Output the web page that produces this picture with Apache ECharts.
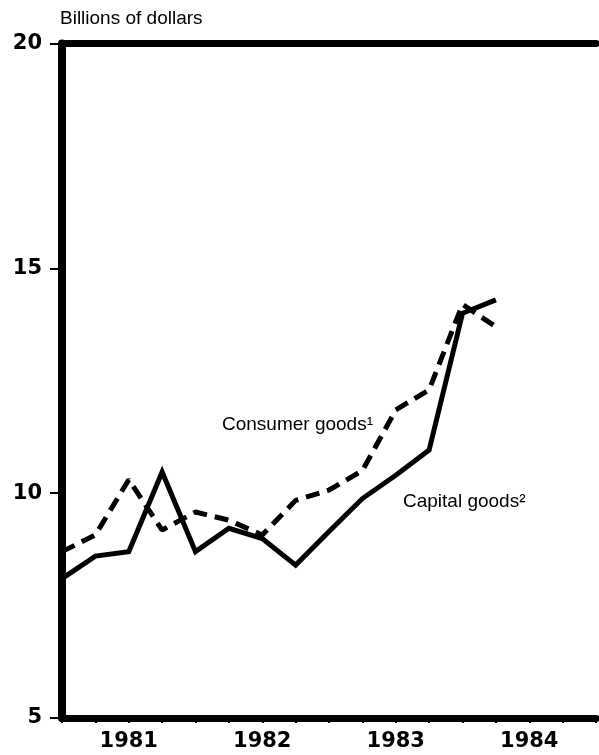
<!DOCTYPE html>
<html>
<head>
<meta charset="utf-8">
<script src="https://cdn.jsdelivr.net/npm/echarts@6/dist/echarts.min.js"></script>
<style>
  html, body { margin: 0; padding: 0; background: #fff; }
  #chart { width: 599px; height: 755px; }
</style>
</head>
<body>
<div id="chart"></div>
<script>
// quarterly data, 1981 Q1 .. 1984 Q2
const years = ['1981', '1982', '1983', '1984']
const consumerGoods = [8.7, 9.07, 10.3, 9.18, 9.58, 9.4, 9.07, 9.84, 10.07, 10.5, 11.85, 12.3, 14.2, 13.7]
const capitalGoods = [8.1, 8.6, 8.7, 10.47, 8.7, 9.22, 8.99, 8.4, 9.15, 9.88, 10.4, 10.96, 14.0, 14.3]
const yTicks = [5, 10, 15, 20]

// 17 quarter boundaries, year label in the middle of each year
const quarterLabels = []
for (let i = 0; i <= 16; i++) {
  quarterLabels.push(i % 4 === 2 ? years[(i - 2) / 4] : '')
}

const chart = echarts.init(document.getElementById('chart'))

const textFont = '19px "Liberation Sans", Arial, sans-serif'

const option = {
  animation: false,
  backgroundColor: '#fff',
  grid: { left: 62, right: 1, top: 43.5, bottom: 37 },
  xAxis: [
    {
      type: 'category',
      boundaryGap: false,
      data: quarterLabels,
      axisLine: { lineStyle: { color: '#000', width: 7 } },
      axisTick: { interval: 0, length: 5, lineStyle: { color: '#000', width: 2 } },
      axisLabel: {
        interval: 0,
        margin: 13,
        color: '#000',
        fontFamily: 'DejaVu Sans',
        fontWeight: 'bold',
        fontSize: 21
      }
    },
    {
      type: 'category',
      position: 'top',
      boundaryGap: false,
      data: quarterLabels,
      axisLine: { lineStyle: { color: '#000', width: 7 } },
      axisTick: { show: false },
      axisLabel: { show: false }
    }
  ],
  yAxis: {
    type: 'value',
    min: yTicks[0],
    max: yTicks[yTicks.length - 1],
    interval: 5,
    axisLine: { show: true, lineStyle: { color: '#000', width: 8 } },
    axisTick: { show: true, length: 12, lineStyle: { color: '#000', width: 2 } },
    splitLine: { show: false },
    axisLabel: {
      margin: 20,
      color: '#000',
      fontFamily: 'DejaVu Sans',
      fontWeight: 'bold',
      fontSize: 21
    }
  },
  series: [
    {
      name: 'Consumer goods',
      type: 'line',
      data: consumerGoods,
      symbol: 'none',
      lineStyle: { color: '#000', width: 5, type: [14, 8], cap: 'butt' },
      z: 3
    },
    {
      name: 'Capital goods',
      type: 'line',
      data: capitalGoods,
      symbol: 'none',
      lineStyle: { color: '#000', width: 5, join: 'miter' },
      z: 4
    }
  ],
  graphic: [
    {
      type: 'text', left: 60, top: 9,
      style: { text: 'Billions of dollars', fill: '#000', font: textFont }
    },
    {
      type: 'text', left: 222, top: 415,
      style: { text: 'Consumer goods\u00b9', fill: '#000', font: textFont }
    },
    {
      type: 'text', left: 403, top: 492,
      style: { text: 'Capital goods\u00b2', fill: '#000', font: textFont }
    }
  ]
}

chart.setOption(option)
</script>
</body>
</html>
